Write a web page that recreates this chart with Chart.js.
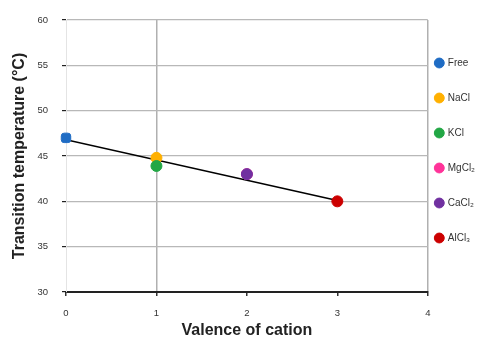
<!DOCTYPE html>
<html>
<head>
<meta charset="utf-8">
<script src="https://cdn.jsdelivr.net/npm/chart.js@4/dist/chart.umd.min.js"></script>
<style>
  body { margin: 0; background: #fff; }
</style>
</head>
<body>
<canvas id="chart" width="502" height="344"></canvas>
<script>
const saltNames = ["Free", "NaCl", "KCl", "MgCl\u2082", "CaCl\u2082", "AlCl\u2083"];
const valence = [0, 1, 1, 2, 2, 3];
const transitionTemp = [47.0, 44.8, 43.9, 43.0, 43.0, 40.0];
const saltColors = ["#1f6cc4", "#ffb000", "#22a745", "#ff3399", "#7030a0", "#cc0000"];
const trendX = [0, 3];
const trendY = [46.8, 40.1];

const pointDatasets = saltNames.map((name, i) => ({
    label: name,
    data: [{ x: valence[i], y: transitionTemp[i] }],
    backgroundColor: saltColors[i],
    borderColor: saltColors[i],
    pointStyle: i === 0 ? "rectRounded" : "circle",
    pointRadius: 5.5,
    clip: false,
    order: i === 2 ? 0 : 6 - i,
}));

const trendDataset = {
    type: "line",
    label: "trend",
    data: trendX.map((x, i) => ({ x: x, y: trendY[i] })),
    borderColor: "#000",
    borderWidth: 1.6,
    pointRadius: 0,
    fill: false,
    order: 20,
};

// nudge the legend block so it sits where the original one does
const legendNudge = {
    id: "legendNudge",
    afterLayout(chart) {
        const lg = chart.legend;
        lg.left -= 17; lg.right -= 17;
        lg.top += 13; lg.bottom += 13;
    },
};

const ctx = document.getElementById("chart").getContext("2d");
new Chart(ctx, {
    type: "scatter",
    data: { datasets: [trendDataset, ...pointDatasets] },
    plugins: [legendNudge],
    options: {
        responsive: false,
        animation: false,
        layout: { padding: { top: 20, right: 0, bottom: 0, left: 0 } },
        plugins: {
            tooltip: { enabled: false },
            legend: {
                position: "right",
                align: "start",
                labels: {
                    usePointStyle: true,
                    pointStyle: "circle",
                    boxWidth: 7,
                    boxHeight: 7,
                    padding: 25,
                    color: "#333",
                    font: { family: "Liberation Sans", size: 10 },
                    filter: (item) => item.text !== "trend",
                    sort: (a, b) => a.datasetIndex - b.datasetIndex,
                },
            },
        },
        scales: {
            x: {
                type: "linear",
                min: 0,
                max: 4,
                ticks: {
                    stepSize: 1,
                    color: "#333",
                    font: { family: "Liberation Sans", size: 9.5 },
                    padding: 12,
                },
                grid: {
                    color: (c) => (c.tick && (c.tick.value === 1 || c.tick.value === 4)) ? "#b0b0b0" : "rgba(0,0,0,0)",
                    lineWidth: 1.5,
                    tickColor: "#333",
                    tickLength: 4,
                },
                border: { color: "#222", width: 2 },
                title: {
                    display: true,
                    text: "Valence of cation",
                    color: "#222",
                    font: { family: "Liberation Sans", size: 16, weight: "bold" },
                    padding: { top: 9 },
                },
                afterFit: (s) => { s.height = 52; },
            },
            y: {
                min: 30,
                max: 60,
                ticks: {
                    stepSize: 5,
                    color: "#333",
                    font: { family: "Liberation Sans", size: 9.5 },
                    padding: 14,
                },
                grid: {
                    color: "#b8b8b8",
                    lineWidth: 1.2,
                    tickColor: "#222",
                    tickLength: 4,
                },
                border: { color: "#e4e4e4", width: 1 },
                title: {
                    display: true,
                    text: "Transition temperature (\u00b0C)",
                    color: "#222",
                    font: { family: "Liberation Sans", size: 16, weight: "bold" },
                    padding: { top: 10 },
                },
                afterFit: (s) => { s.width = 66; },
            },
        },
    },
});
</script>
</body>
</html>
